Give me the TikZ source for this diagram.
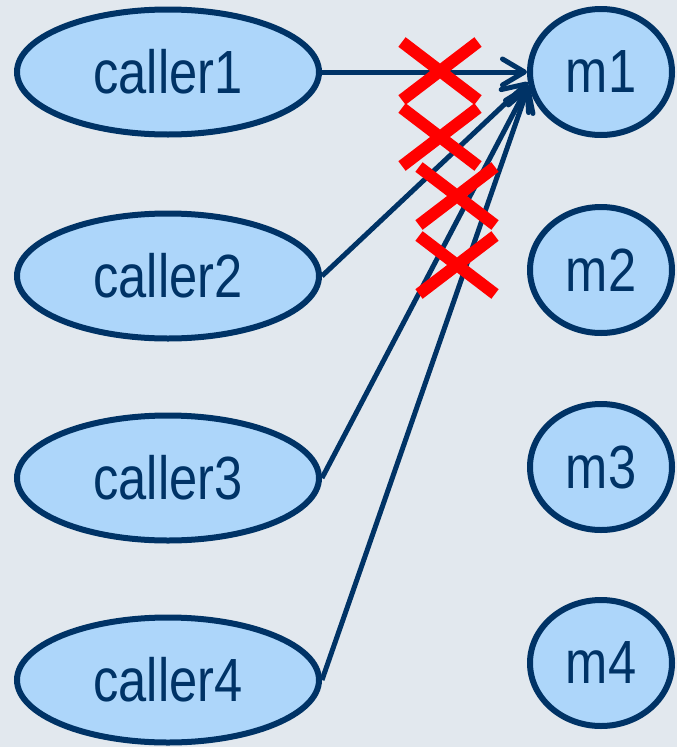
\documentclass[tikz,border=0pt]{standalone}
\usepackage{fontspec}
\setmainfont[FakeStretch=0.83]{Liberation Sans}
\usetikzlibrary{shapes.geometric,arrows.meta}
\definecolor{bgc}{HTML}{E2E8EE}
\definecolor{fillc}{HTML}{ADD6FA}
\definecolor{navy}{HTML}{003366}
\definecolor{redx}{HTML}{FF0000}
\tikzset{
  callerbox/.style={ellipse, draw=navy, fill=fillc, line width=6pt, inner sep=0pt,
    minimum width=302pt, minimum height=125pt, text=navy,
    font=\fontsize{61pt}{61pt}\selectfont},
  mbox/.style={ellipse, draw=navy, fill=fillc, line width=6pt, inner sep=0pt,
    minimum width=142pt, minimum height=126pt, text=navy,
    font=\fontsize{61pt}{61pt}\selectfont},
  callline/.style={draw=navy, line width=5pt,
    -{Straight Barb[length=22pt,width=26pt,round]}},
  crossline/.style={draw=redx, line width=12pt},
  crossmark/.pic={\draw[crossline] (-38,-29) -- (38,29) (-38,29) -- (38,-29);}
}
\begin{document}
\begin{tikzpicture}[x=1pt,y=-1pt]
\fill[bgc] (0,0) rectangle (677,747);
\useasboundingbox (0,0) rectangle (677,747);
\node[callerbox] (c1) at (168,72) {caller1};
\node[callerbox] (c2) at (168,276) {caller2};
\node[callerbox] (c3) at (168,478) {caller3};
\node[callerbox] (c4) at (168,680) {caller4};
\node[mbox] (m1) at (601,72) {m1};
\node[mbox] (m2) at (601,270) {m2};
\node[mbox] (m3) at (601,467) {m3};
\node[mbox] (m4) at (601,663) {m4};
\draw[callline] (c1.east) -- (m1.west);
\draw[callline] (c2.east) -- (m1.188);
\draw[callline] (c3.east) -- (m1.190);
\draw[callline] (c4.east) -- (m1.191);
\pic at (440,71) {crossmark};
\pic at (440,137) {crossmark};
\pic at (457,196) {crossmark};
\pic at (457,265) {crossmark};
\end{tikzpicture}
\end{document}
